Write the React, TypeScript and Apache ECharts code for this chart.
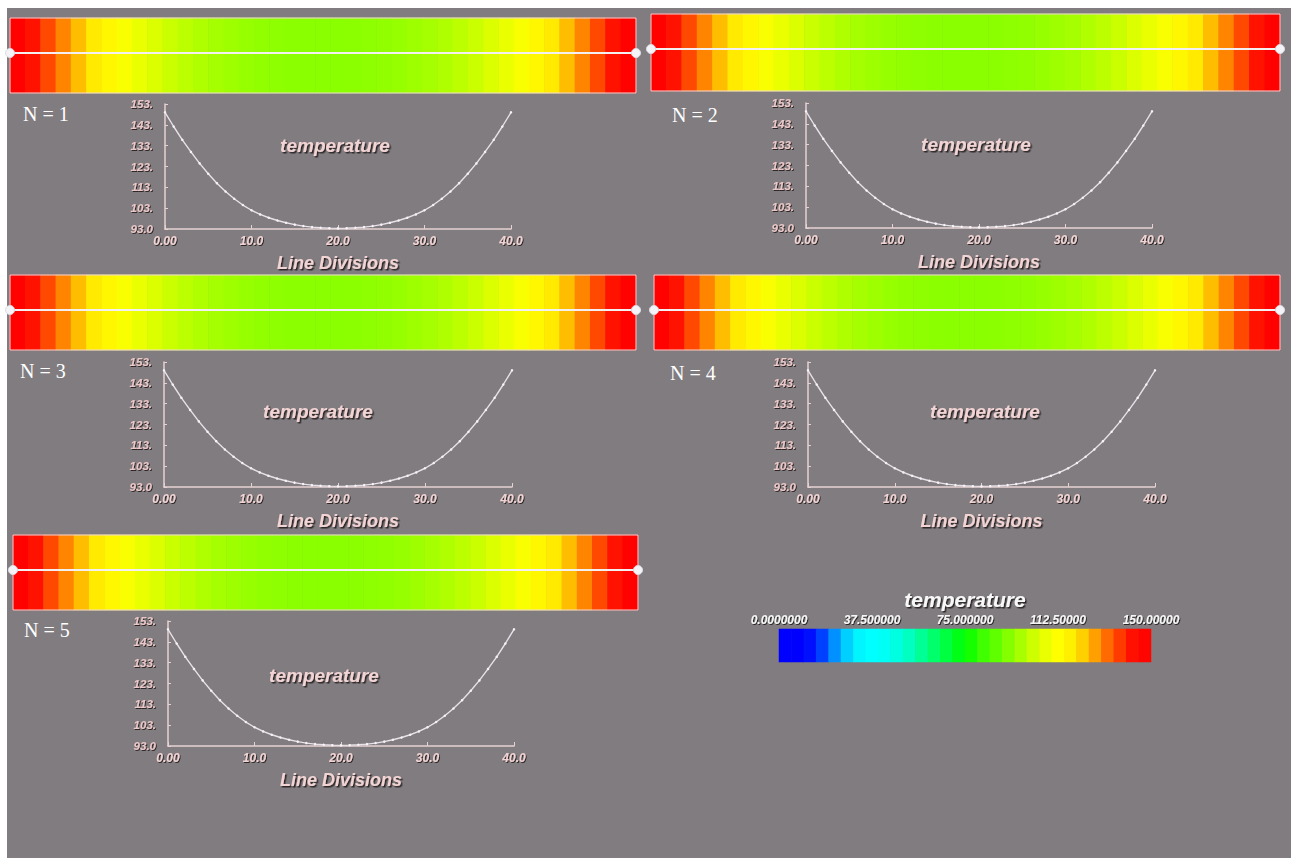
import React, { useEffect, useRef } from "react";
import * as echarts from "echarts";

// ---- data ----
const divisions = [0, 1, 2, 3, 4, 5, 6, 7, 8, 9, 10, 11, 12, 13, 14, 15, 16, 17, 18, 19, 20, 21, 22, 23, 24, 25, 26, 27, 28, 29, 30, 31, 32, 33, 34, 35, 36, 37, 38, 39, 40];
const temperature = [149, 142.2, 135.8, 130, 124.5, 119.5, 115, 111, 107.5, 104.5, 102, 100, 98.4, 97.1, 96, 95.1, 94.4, 93.9, 93.6, 93.4, 93.3, 93.4, 93.6, 93.9, 94.4, 95.1, 96, 97.1, 98.4, 100, 102, 104.5, 107.5, 111, 115, 119.5, 124.5, 130, 135.8, 142.2, 149];
const panelNames = ["N = 1", "N = 2", "N = 3", "N = 4", "N = 5"];
const yTicks = [93, 103, 113, 123, 133, 143, 153];
const yTickLabels = ["93.0", "103.", "113.", "123.", "133.", "143.", "153."];
const xTicks = [0, 10, 20, 30, 40];
const xTickLabels = ["0.00", "10.0", "20.0", "30.0", "40.0"];
const colorbarSteps = [2.5, 7.5, 12.5, 17.5, 22.5, 27.5, 32.5, 37.5, 42.5, 47.5, 52.5, 57.5, 62.5, 67.5, 72.5, 77.5, 82.5, 87.5, 92.5, 97.5, 102.5, 107.5, 112.5, 117.5, 122.5, 127.5, 132.5, 137.5, 142.5, 147.5];
const colorbarTicks = [0, 37.5, 75, 112.5, 150];
const colorbarTickLabels = ["0.0000000", "37.500000", "75.000000", "112.50000", "150.00000"];
const colorMap = [
  "#0000ff", "#0000ff", "#0018ff", "#0090ff", "#00f0ff", "#00ffff", "#00fff0",
  "#00ffc0", "#00ff80", "#00ff40", "#00ff00", "#40ff00", "#70ff00", "#a8ff00",
  "#e0ff00", "#ffff00", "#ffe800", "#ffa000", "#ff5000", "#ff1000", "#ff0000",
];

// ---- layout ----
const stripLayouts = [
  { left: 10, top: 18, width: 626, height: 75 },
  { left: 651, top: 14, width: 629, height: 77 },
  { left: 10, top: 275, width: 626, height: 75 },
  { left: 654, top: 275, width: 626, height: 75 },
  { left: 13, top: 535, width: 625, height: 75 },
];
const plotLayouts = [
  { left: 165, top: 104, width: 346, height: 125, titleX: 335, titleY: 145, nX: 23, nY: 114 },
  { left: 806, top: 103, width: 346, height: 125, titleX: 976, titleY: 144, nX: 672, nY: 115 },
  { left: 164, top: 362, width: 348, height: 125, titleX: 318, titleY: 411, nX: 20, nY: 371 },
  { left: 808, top: 362, width: 347, height: 125, titleX: 985, titleY: 411, nX: 670, nY: 373 },
  { left: 168, top: 621, width: 346, height: 125, titleX: 324, titleY: 675, nX: 24, nY: 630 },
];
const colorbarLayout = { left: 779, top: 629, width: 372, height: 33, titleX: 965, titleY: 599 };

const BG = "#807c80";
const PINK = "#f2d4d4";
const AXIS = "#e6d2d2";
const SANS = "'Liberation Sans', Arial, sans-serif";
const shadow = {
  textShadowColor: "rgba(30,20,20,0.85)",
  textShadowBlur: 1,
  textShadowOffsetX: 1.5,
  textShadowOffsetY: 1.5,
};

function buildOption() {
  const grid: any[] = [];
  const xAxis: any[] = [];
  const yAxis: any[] = [];
  const series: any[] = [];
  const graphic: any[] = [];

  graphic.push({ type: "rect", z: -10, shape: { x: 7, y: 8, width: 1284, height: 850 }, style: { fill: BG } });

  // strips (heatmaps)
  stripLayouts.forEach((s, i) => {
    grid.push({ left: s.left, top: s.top, width: s.width, height: s.height, containLabel: false });
    xAxis.push({ type: "category", gridIndex: i, data: divisions.map(String), show: false });
    yAxis.push({ type: "category", gridIndex: i, data: ["0"], show: false });
    series.push({
      type: "heatmap",
      xAxisIndex: i,
      yAxisIndex: i,
      data: temperature.map((t, k) => [k, 0, t]),
      itemStyle: { borderWidth: 0 },
      emphasis: { disabled: true },
    });
    const ly = s.top + Math.round(s.height * 0.46);
    graphic.push(
      { type: "rect", z: 50, shape: { x: s.left, y: s.top, width: s.width, height: s.height }, style: { fill: "none", stroke: "#f0d8d8", lineWidth: 1 } },
      { type: "line", z: 51, shape: { x1: s.left, y1: ly, x2: s.left + s.width, y2: ly }, style: { stroke: "#f4f0f2", lineWidth: 2 } },
      { type: "circle", z: 52, shape: { cx: s.left, cy: ly, r: 4.5 }, style: { fill: "#f4f4f8", stroke: "#dcdce4", lineWidth: 1 } },
      { type: "circle", z: 52, shape: { cx: s.left + s.width, cy: ly, r: 4.5 }, style: { fill: "#f4f4f8", stroke: "#dcdce4", lineWidth: 1 } }
    );
  });

  // plots (line charts)
  plotLayouts.forEach((p, i) => {
    const gi = 5 + i;
    grid.push({ left: p.left, top: p.top, width: p.width, height: p.height, containLabel: false });
    xAxis.push({
      type: "value",
      gridIndex: gi,
      min: 0,
      max: 40,
      interval: 10,
      name: "Line Divisions",
      nameLocation: "middle",
      nameGap: 25,
      nameTextStyle: { fontFamily: SANS, fontSize: 18, fontStyle: "italic", fontWeight: "bold", color: PINK, ...shadow },
      axisLine: { show: true, lineStyle: { color: AXIS, width: 1.5 } },
      axisTick: { show: true, inside: true, length: 4, lineStyle: { color: AXIS } },
      splitLine: { show: false },
      axisLabel: {
        margin: 6,
        fontFamily: SANS,
        fontSize: 12,
        fontStyle: "italic",
        fontWeight: "bold",
        color: PINK,
        ...shadow,
        textShadowOffsetX: 1,
        textShadowOffsetY: 1,
        formatter: (v: number) => xTickLabels[xTicks.indexOf(v)] ?? "",
      },
    });
    yAxis.push({
      type: "value",
      gridIndex: gi,
      min: 93,
      max: 153,
      axisLine: { show: true, lineStyle: { color: AXIS, width: 1.5 } },
      axisTick: { show: true, inside: true, length: 3, customValues: yTicks, lineStyle: { color: AXIS } },
      splitLine: { show: false },
      axisLabel: {
        customValues: yTicks,
        margin: 12,
        fontFamily: SANS,
        fontSize: 11.5,
        fontStyle: "italic",
        fontWeight: "bold",
        color: "#ecc8c8",
        ...shadow,
        textShadowOffsetX: 1,
        textShadowOffsetY: 1,
        formatter: (v: number) => yTickLabels[yTicks.indexOf(v)] ?? "",
      },
    });
    series.push({
      type: "line",
      xAxisIndex: gi,
      yAxisIndex: gi,
      data: divisions.map((d, k) => [d, temperature[k]]),
      lineStyle: { color: "#e8e2e8", width: 1.4 },
      symbol: "circle",
      symbolSize: 2.5,
      showSymbol: true,
      itemStyle: { color: "#f6f2f6" },
      emphasis: { disabled: true },
    });
    graphic.push(
      {
        type: "text",
        z: 60,
        x: p.titleX,
        y: p.titleY,
        style: {
          text: "temperature",
          fontFamily: SANS,
          fontSize: 19,
          fontStyle: "italic",
          fontWeight: "bold",
          fill: PINK,
          align: "center",
          verticalAlign: "middle",
          ...shadow,
        },
      },
      {
        type: "text",
        z: 60,
        x: p.nX,
        y: p.nY,
        style: {
          text: panelNames[i],
          fontFamily: "'Liberation Serif', 'Times New Roman', serif",
          fontSize: 20,
          fill: "#ffffff",
          align: "left",
          verticalAlign: "middle",
        },
      }
    );
  });

  // colorbar
  const cb = colorbarLayout;
  grid.push({ left: cb.left, top: cb.top, width: cb.width, height: cb.height, containLabel: false });
  xAxis.push({ type: "category", gridIndex: 10, data: colorbarSteps.map(String), show: false });
  xAxis.push({
    type: "value",
    gridIndex: 10,
    position: "top",
    min: 0,
    max: 150,
    interval: 37.5,
    axisLine: { show: false },
    axisTick: { show: false },
    splitLine: { show: false },
    axisLabel: {
      margin: 3,
      fontFamily: SANS,
      fontSize: 12,
      fontStyle: "italic",
      fontWeight: "bold",
      color: "#f6f6f6",
      ...shadow,
      textShadowOffsetX: 1,
      textShadowOffsetY: 1,
      formatter: (v: number) => colorbarTickLabels[colorbarTicks.indexOf(v)] ?? "",
    },
  });
  yAxis.push({ type: "category", gridIndex: 10, data: ["0"], show: false });
  series.push({
    type: "heatmap",
    xAxisIndex: 10,
    yAxisIndex: 10,
    data: colorbarSteps.map((v, k) => [k, 0, v]),
    itemStyle: { borderWidth: 0 },
    emphasis: { disabled: true },
  });
  graphic.push({
    type: "text",
    z: 60,
    x: cb.titleX,
    y: cb.titleY,
    style: {
      text: "temperature",
      fontFamily: SANS,
      fontSize: 21,
      fontStyle: "italic",
      fontWeight: "bold",
      fill: "#f8f8f8",
      align: "center",
      verticalAlign: "middle",
      ...shadow,
    },
  });

  return {
    animation: false,
    backgroundColor: "#ffffff",
    tooltip: { show: false },
    visualMap: {
      type: "continuous",
      show: false,
      min: 0,
      max: 150,
      dimension: 2,
      seriesIndex: [0, 1, 2, 3, 4, 10],
      inRange: { color: colorMap },
    },
    graphic,
    grid,
    xAxis,
    yAxis,
    series,
  };
}

export default function App() {
  const ref = useRef<HTMLDivElement>(null);
  useEffect(() => {
    document.body.style.margin = "0";
    document.body.style.overflow = "hidden";
    const chart = echarts.init(ref.current as HTMLDivElement, null, { renderer: "svg" });
    chart.setOption(buildOption() as any);
    return () => chart.dispose();
  }, []);
  return <div ref={ref} style={{ width: 1291, height: 858, background: "#ffffff" }} />;
}
